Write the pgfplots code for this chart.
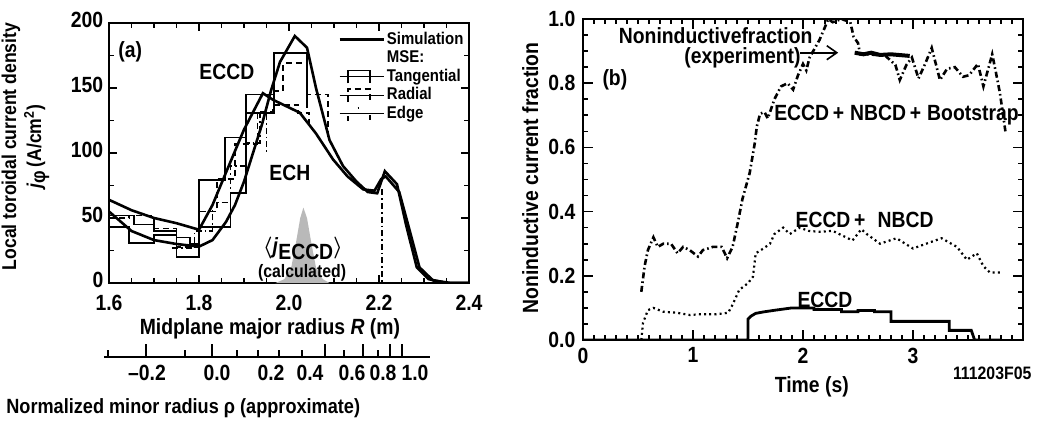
\documentclass[border=0pt]{standalone}
\usepackage{fontspec}
\setmainfont{Liberation Sans}[FakeStretch=0.88]
\usepackage{amsmath}
\usepackage{pgfplots}
\pgfplotsset{compat=1.18}
\usetikzlibrary{arrows.meta}
\begin{document}
\bfseries\fontsize{11}{13}\selectfont
\begin{tikzpicture}
\useasboundingbox (0pt,0pt) rectangle (523.5pt,-213.5pt);
% ---------------- panel (a) ----------------
\begin{axis}[at={(54.5pt,-141.5pt)}, anchor=south west, scale only axis, clip mode=individual,
  width=180pt, height=130pt, xmin=1.6, xmax=2.4, ymin=0, ymax=200,
  xtick={1.6,1.8,2.0,2.2,2.4}, ytick={0,50,100,150,200},
  minor x tick num=3, minor y tick num=1,
  major tick length=4pt, minor tick length=2.5pt,
  axis line style={line width=1.1pt}, tick style={line width=0.8pt,black},
  /pgf/number format/assume math mode=true,
  xticklabel style={yshift=-2pt,/pgf/number format/.cd,fixed,fixed zerofill,precision=1},
  yticklabel style={xshift=1pt, yshift=1.5pt},
  xlabel={Midplane major radius \textit{R} (m)},
  xlabel style={at={(axis description cs:0.447,-0.175)}, anchor=center},
  ylabel={Local toroidal current density\\ \textit{j}\raisebox{-2pt}{φ}\,(A/cm\textsuperscript{2})},
  ylabel style={at={(axis description cs:-0.232,0.525)}, anchor=center, align=center,
    font=\fontsize{10}{12.5}\selectfont},
  legend cell align=left,
  legend style={at={(0.636,0.975)}, anchor=north west, draw=none, fill=none,
    inner sep=0pt, font=\fontsize{8.5}{8.5}\selectfont, row sep=-0.5pt,
    nodes={inner sep=1pt}},
]
% calculated ECCD profile (gray)
\addplot[forget plot, fill=gray!55, draw=none] coordinates {
 (1.97,0)(1.99,3)(2.005,12)(2.015,30)(2.025,50)(2.032,58)(2.04,50)(2.05,30)(2.06,12)(2.075,3)(2.09,0)} \closedcycle;
% simulation ECCD
\addplot[forget plot, line width=1.3pt] coordinates {
 (1.60,55)(1.65,40)(1.70,33)(1.75,30)(1.80,28)(1.83,33)(1.86,47)(1.88,60)(1.90,78)(1.92,100)
 (1.94,122)(1.96,148)(1.98,170)(2.013,190)(2.04,181)(2.06,150)(2.09,110)(2.12,90)(2.15,78)
 (2.175,70)(2.196,69)(2.213,86)(2.24,76)(2.26,45)(2.284,12)(2.31,3)(2.35,0)(2.40,0)};
% simulation ECH
\addplot[forget plot, line width=1.3pt] coordinates {
 (1.60,64)(1.65,56)(1.70,50)(1.75,46)(1.80,41)(1.83,60)(1.86,85)(1.90,118)(1.942,146)
 (1.964,141)(2.024,131)(2.06,115)(2.098,95)(2.13,82)(2.165,72)(2.19,71)(2.205,80)(2.215,82)
 (2.245,70)(2.27,38)(2.29,12)(2.32,2)(2.36,0)(2.40,0)};
% MSE tangential, ECCD
\addplot[forget plot, const plot, line width=0.9pt] coordinates {
 (1.60,43)(1.645,31)(1.70,37)(1.75,20)(1.80,43)(1.87,69)(1.905,131)(1.966,177)(2.04,177)(2.04,135)};
% MSE tangential, ECH
\addplot[forget plot, const plot, line width=0.9pt] coordinates {
 (1.60,52)(1.655,45)(1.70,40)(1.75,35)(1.78,30)(1.80,79)(1.857,112)(1.905,145)(1.966,145)(1.966,136)};
% MSE radial, ECH
\addplot[forget plot, const plot, line width=0.9pt, dash pattern=on 3pt off 2pt] coordinates {
 (1.60,50)(1.645,52)(1.70,42)(1.75,28)(1.80,55)(1.84,80)(1.88,107)(1.93,132)(1.965,137)(2.02,131)(2.045,131)(2.045,120)};
% MSE radial, ECCD
\addplot[forget plot, const plot, line width=0.9pt, dash pattern=on 3pt off 2pt] coordinates {
 (1.965,148)(1.987,169)(2.04,145)(2.087,145)(2.087,112)};
% MSE edge
\addplot[forget plot, const plot, line width=0.9pt, dash pattern=on 3pt off 1.5pt on 0.8pt off 1.5pt] coordinates {
 (1.74,27)(1.79,40)(1.83,62)(1.87,90)(1.905,108)(1.936,131)(1.95,131)(1.95,100)};
\addplot[forget plot, line width=0.9pt, dash pattern=on 3pt off 1.5pt on 0.8pt off 1.5pt] coordinates {
 (2.207,72)(2.207,0)};
% legend
\addlegendimage{legend image code/.code={\draw[line width=1.3pt] (0pt,0pt) -- (22pt,0pt);}}
\addlegendentry{Simulation}
\addlegendimage{empty legend}
\addlegendentry{MSE:}
\addlegendimage{legend image code/.code={\path (0pt,0pt) -- (22pt,0pt); \draw[line width=0.9pt] (4pt,-3.5pt) -- (4pt,3pt) -- (15pt,3pt) -- (15pt,-3.5pt);}}
\addlegendentry{Tangential}
\addlegendimage{legend image code/.code={\path (0pt,0pt) -- (22pt,0pt); \draw[line width=0.9pt, dash pattern=on 3pt off 2pt] (4pt,-3.5pt) -- (4pt,3pt) -- (15pt,3pt) -- (15pt,-3.5pt);}}
\addlegendentry{Radial}
\addlegendimage{legend image code/.code={\path (0pt,0pt) -- (22pt,0pt); \draw[line width=0.9pt, dash pattern=on 2.5pt off 9pt on 0.8pt off 9pt] (4pt,-3.5pt) -- (4pt,3pt) -- (15pt,3pt) -- (15pt,-3.5pt);}}
\addlegendentry{Edge}
\node at (axis cs:1.647,178) {(a)};
\node at (axis cs:1.862,162) {ECCD};
\node at (axis cs:2.002,85) {ECH};
\node at (axis cs:2.031,27) {$\boldsymbol{\langle}$\textit{j}\raisebox{-3pt}{ECCD}$\boldsymbol{\rangle}$};
\node[font=\fontsize{9}{10}\selectfont] at (axis cs:2.029,8) {(calculated)};
\end{axis}
% ---------------- normalized minor radius axis ----------------
\begin{axis}[at={(52pt,-178.5pt)}, anchor=south west, scale only axis,
  width=163pt, height=10pt, xmin=104, xmax=430, ymin=0, ymax=1,
  axis y line=none, axis x line=bottom, x axis line style={-, line width=0.8pt},
  xtick={146,212,325,363,390,402}, xticklabels={},
  minor xtick={108,185,237,258,279,302,344,378},
  tick align=inside, major tick length=6.5pt, minor tick length=3.5pt,
  tick style={line width=0.9pt, black},
  extra x ticks={147,217,271,310,352,383,415},
  extra x tick labels={\textendash0.2,0.0,0.2,0.4,0.6,0.8,1.0},
  extra x tick style={major tick length=0pt},
  xlabel={Normalized minor radius ρ (approximate)},
  xlabel style={at={(axis description cs:0.243,-2.55)}, anchor=center, font=\fontsize{10.3}{12}\selectfont},
]
\addplot[draw=none] coordinates {(104,0)(430,1)};
\end{axis}
% ---------------- panel (b) ----------------
\begin{axis}[at={(291.5pt,-170pt)}, anchor=south west, scale only axis, clip mode=individual,
  width=220pt, height=160.5pt, xmin=0, xmax=4, ymin=0, ymax=1,
  xtick={0,1,2,3,4}, xticklabels={0,1,2,3,},
  ytick={0,0.2,0.4,0.6,0.8,1}, minor x tick num=9, minor y tick num=3,
  major tick length=5pt, minor tick length=2.5pt,
  axis line style={line width=1.1pt}, tick style={line width=0.8pt,black},
  /pgf/number format/assume math mode=true,
  yticklabel style={/pgf/number format/.cd,fixed,fixed zerofill,precision=1},
  xlabel={Time (s)},
  xlabel style={at={(axis description cs:0.52,-0.146)}, anchor=center},
  ylabel={Noninductive current fraction},
  ylabel style={at={(axis description cs:-0.12,0.505)}, anchor=center},
]
% ECCD + NBCD + Bootstrap
\addplot[line width=1.3pt, dash pattern=on 3pt off 1.5pt on 0.8pt off 1.5pt] coordinates {
 (0.53,0.15)(0.56,0.23)(0.59,0.28)(0.64,0.32)(0.68,0.29)(0.73,0.30)(0.80,0.30)(0.86,0.27)
 (0.91,0.29)(0.97,0.28)(1.045,0.26)(1.09,0.28)(1.18,0.29)(1.26,0.29)(1.31,0.255)(1.36,0.29)
 (1.41,0.37)(1.45,0.44)(1.515,0.52)(1.56,0.61)(1.58,0.665)(1.61,0.705)(1.65,0.71)(1.68,0.69)
 (1.74,0.75)(1.80,0.79)(1.86,0.80)(1.91,0.78)(1.955,0.825)(2.0,0.86)(2.03,0.84)(2.06,0.88)
 (2.15,0.935)(2.2,0.975)(2.23,1.0)(2.27,0.99)(2.35,1.0)(2.43,0.99)(2.46,0.945)(2.50,0.925)
 (2.52,0.89)(2.6,0.89)(2.75,0.885)(2.84,0.857)(2.88,0.81)(2.94,0.857)(2.99,0.88)(3.05,0.815)
 (3.11,0.86)(3.17,0.91)(3.245,0.81)(3.31,0.845)(3.38,0.85)(3.455,0.82)(3.51,0.825)(3.59,0.86)
 (3.64,0.79)(3.72,0.89)(3.75,0.84)(3.79,0.77)(3.84,0.65)};
% experiment
\addplot[line width=2pt] coordinates {
 (2.47,0.895)(2.55,0.89)(2.62,0.895)(2.7,0.888)(2.8,0.89)(2.97,0.885)};
% ECCD + NBCD
\addplot[line width=1.1pt, dash pattern=on 1pt off 1.6pt] coordinates {
 (0.53,0)(0.545,0.053)(0.59,0.093)(0.64,0.10)(0.73,0.088)(0.85,0.085)(0.97,0.078)(1.06,0.08)
 (1.21,0.08)(1.32,0.085)(1.36,0.11)(1.42,0.156)(1.50,0.177)(1.545,0.197)(1.57,0.27)(1.64,0.285)
 (1.70,0.30)(1.74,0.33)(1.82,0.35)(1.88,0.33)(1.97,0.35)(2.05,0.34)(2.15,0.337)(2.27,0.34)
 (2.45,0.31)(2.53,0.345)(2.58,0.33)(2.70,0.30)(2.85,0.317)(3.0,0.285)(3.12,0.30)(3.26,0.317)
 (3.40,0.29)(3.49,0.25)(3.58,0.27)(3.64,0.23)(3.70,0.21)(3.79,0.21)};
% ECCD
\addplot[line width=1.4pt] coordinates {
 (0,0)(1.5,0)(1.5,0.065)(1.53,0.075)(1.57,0.083)(1.65,0.088)(1.75,0.093)(1.9,0.1)(2.1,0.1)
 (2.1,0.095)(2.35,0.095)(2.35,0.088)(2.5,0.088)(2.5,0.092)(2.65,0.092)(2.65,0.088)(2.8,0.088)
 (2.8,0.058)(3.33,0.058)(3.33,0.03)(3.53,0.03)(3.56,0)(3.8,0)};
\draw[line width=0.8pt, -{Straight Barb[length=5pt,width=7pt]}] (axis cs:1.97,0.895) -- (axis cs:2.32,0.895);
\node[align=right, anchor=north east, inner sep=0pt, font=\fontsize{11}{10}\selectfont]
  at (axis cs:2.09,0.975) {Noninductivefraction\\(experiment)\hspace*{6pt}};
\node at (axis cs:0.29,0.81) {(b)};
\node at (axis cs:2.85,0.70) {ECCD\,+\;NBCD\,+\;Bootstrap};
\node at (axis cs:2.56,0.374) {ECCD\,+\;\;NBCD};
\node at (axis cs:2.2,0.125) {ECCD};
\node[font=\fontsize{9}{10}\selectfont] at (axis description cs:0.93,-0.103) {111203F05};
\end{axis}
\end{tikzpicture}
\end{document}
